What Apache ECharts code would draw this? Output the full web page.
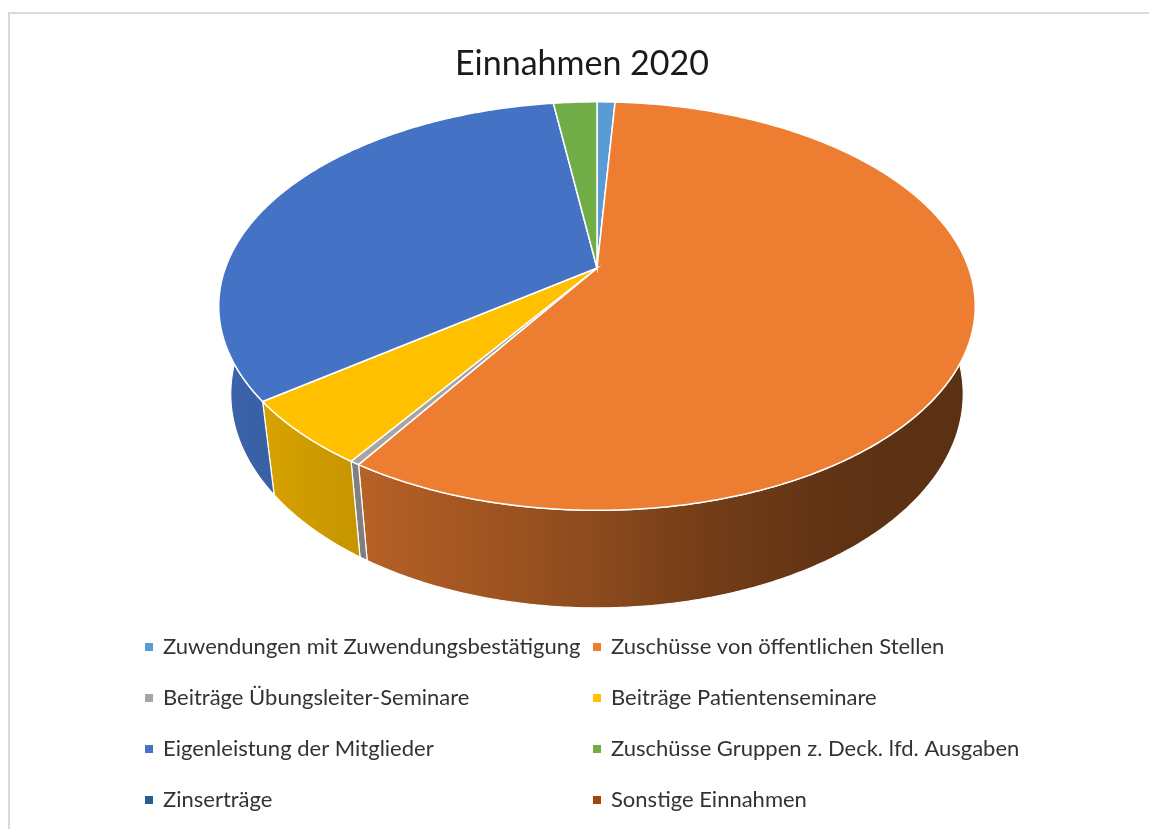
<!DOCTYPE html>
<html>
<head>
<meta charset="utf-8">
<script src="https://cdn.jsdelivr.net/npm/echarts@6/dist/echarts.min.js"></script>
<style>
  html, body { margin: 0; padding: 0; background: #fff; }
  #main { width: 1149px; height: 829px; }
</style>
</head>
<body>
<div id="main"></div>
<script>
var myChart = echarts.init(document.getElementById('main'));

// Daten (Anteile in %, aus dem Bild geschätzt)
var categories = [
    'Zuwendungen mit Zuwendungsbestätigung',
    'Zuschüsse von öffentlichen Stellen',
    'Beiträge Übungsleiter-Seminare',
    'Beiträge Patientenseminare',
    'Eigenleistung der Mitglieder',
    'Zuschüsse Gruppen z. Deck. lfd. Ausgaben',
    'Zinserträge',
    'Sonstige Einnahmen'
];
var values = [0.92, 58.18, 0.35, 5.28, 33.05, 2.22, 0, 0];
var colors = ['#5B9BD5', '#ED7D31', '#A5A5A5', '#FFC000', '#4472C4', '#70AD47', '#255E91', '#9E480E'];

// 3D-Projektion (Perspektive wie Excel)
var cx = 597, cy = 268;
var fx = 1702, fy = 1733, D = 4.58;
var sa = 0.521, ca = 0.854;
var depthH = 0.279;

var total = values.reduce(function (a, b) { return a + b; }, 0);
var startAng = [], endAng = [];
var acc = 0;
for (var i = 0; i < values.length; i++) {
    startAng.push(acc / total * 360);
    acc += values[i];
    endAng.push(acc / total * 360);
}

function project(deg, r, z) {
    var t = deg * Math.PI / 180;
    var X = r * Math.sin(t), Y = r * Math.cos(t);
    var d = D + Y * ca - z * sa;
    return [cx + fx * X / d, cy - fy * (Y * sa + z * ca) / d];
}

function shade(hex, k) {
    var n = parseInt(hex.slice(1), 16);
    var r = Math.round(((n >> 16) & 255) * k);
    var g = Math.round(((n >> 8) & 255) * k);
    var b = Math.round((n & 255) * k);
    return 'rgb(' + r + ',' + g + ',' + b + ')';
}

function wallGradient(hex) {
    var st = [[0, 0.88], [0.24, 0.74], [0.5, 0.59], [0.64, 0.49], [0.83, 0.40], [1, 0.38]];
    return new echarts.graphic.LinearGradient(220, 0, 975, 0, st.map(function (s) {
        return { offset: s[0], color: shade(hex, s[1]) };
    }), true);
}

function arcPoints(a, b, r, z) {
    var pts = [];
    var n = Math.max(2, Math.ceil((b - a) / 0.5));
    for (var k = 0; k <= n; k++) {
        pts.push(project(a + (b - a) * k / n, r, z));
    }
    return pts;
}

function makeRender(idx) {
    return function (params, api) {
        var a = startAng[idx], b = endAng[idx];
        if (b - a <= 0) return null;
        var children = [];
        // Seitenwand (nur vorne sichtbar)
        var wa = Math.max(a, 90), wb = Math.min(b, 270);
        if (wb > wa) {
            var top = arcPoints(wa, wb, 1, 0);
            var bottom = arcPoints(wa, wb, 1, -depthH).reverse();
            children.push({
                type: 'polygon',
                z2: 1,
                shape: { points: top.concat(bottom) },
                style: { fill: wallGradient(colors[idx]), stroke: '#fff', lineWidth: 1.2 }
            });
        }
        // Deckfläche
        var pts = [project(0, 0, 0)].concat(arcPoints(a, b, 1, 0));
        children.push({
            type: 'polygon',
            z2: 10,
            shape: { points: pts },
            style: { fill: colors[idx], stroke: '#fff', lineWidth: 1.5 }
        });
        return { type: 'group', children: children };
    };
}

var series = [];
for (var i = 0; i < categories.length; i++) {
    series.push({
        type: 'custom',
        name: categories[i],
        coordinateSystem: 'none',
        data: [values[i]],
        itemStyle: { color: colors[i] },
        renderItem: makeRender(i),
        silent: true,
        animation: false
    });
}

var legendText = { fontFamily: 'Lato', fontSize: 22, color: '#333', padding: [0, 0, 0, 5] };

option = {
    backgroundColor: '#fff',
    title: {
        text: 'Einnahmen 2020',
        left: 450,
        top: 42,
        textStyle: { fontFamily: 'Lato', fontSize: 34, fontWeight: 'normal', color: '#1a1a1a' }
    },
    legend: [{
        orient: 'vertical',
        left: 140,
        top: 631,
        itemGap: 29,
        icon: 'rect',
        itemWidth: 8,
        itemHeight: 8,
        selectedMode: false,
        textStyle: legendText,
        data: [categories[0], categories[2], categories[4], categories[6]]
    }, {
        orient: 'vertical',
        left: 588,
        top: 631,
        itemGap: 29,
        icon: 'rect',
        itemWidth: 8,
        itemHeight: 8,
        selectedMode: false,
        textStyle: legendText,
        data: [categories[1], categories[3], categories[5], categories[7]]
    }],
    graphic: [{
        type: 'rect',
        silent: true,
        shape: { x: 9, y: 13, width: 1300, height: 900 },
        style: { fill: 'none', stroke: '#d9d9d9', lineWidth: 2 }
    }],
    series: series
};

myChart.setOption(option);
window.onresize = myChart.resize;
</script>
</body>
</html>
